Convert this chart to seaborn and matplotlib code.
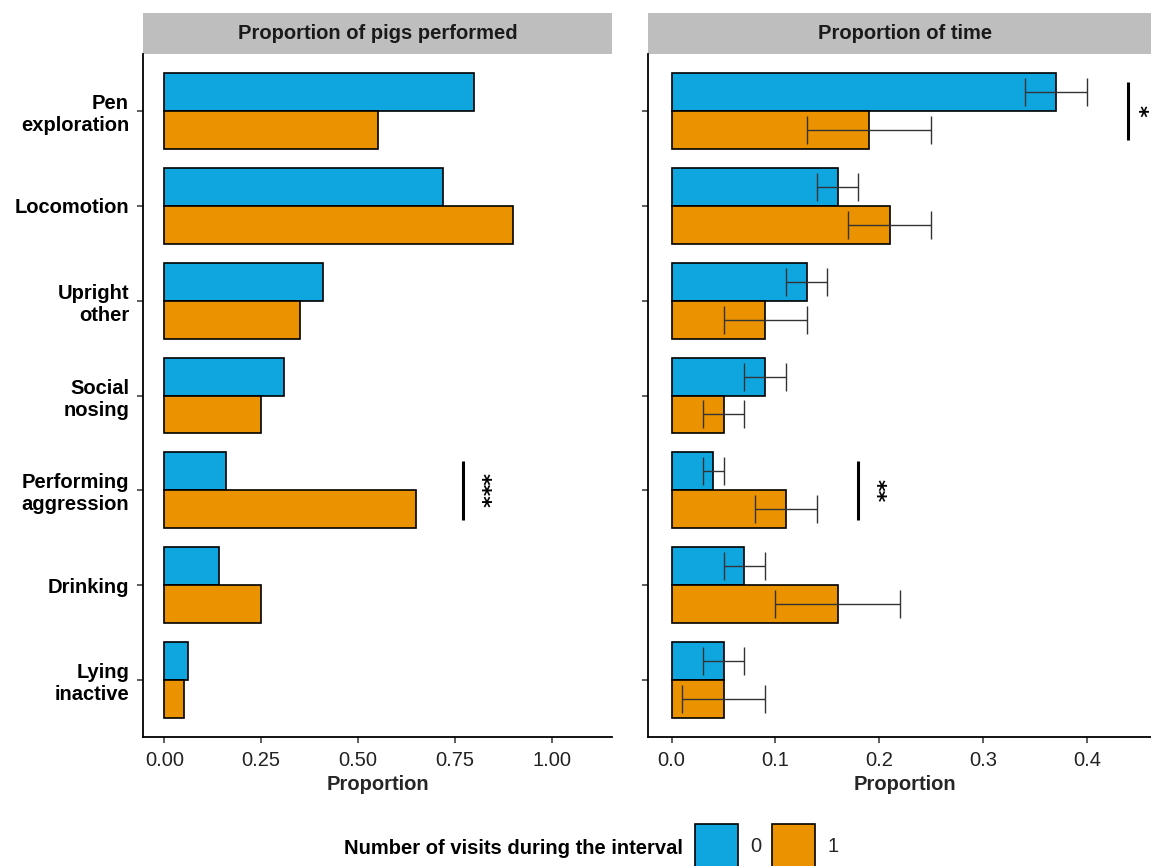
import numpy as np
import pandas as pd
import matplotlib
matplotlib.use("Agg")
import matplotlib.pyplot as plt
from matplotlib.patches import Patch, Rectangle
from matplotlib.ticker import FormatStrFormatter
import seaborn as sns

# ---------------- data ----------------
behaviours = ["Pen\nexploration", "Locomotion", "Upright\nother", "Social\nnosing",
              "Performing\naggression", "Drinking", "Lying\ninactive"]
visit_levels = ["0", "1"]

pigs_v0 = [0.80, 0.72, 0.41, 0.31, 0.16, 0.14, 0.06]
pigs_v1 = [0.55, 0.90, 0.35, 0.25, 0.65, 0.25, 0.05]

time_v0 = [0.37, 0.16, 0.13, 0.09, 0.04, 0.07, 0.05]
time_v1 = [0.19, 0.21, 0.09, 0.05, 0.11, 0.16, 0.05]
time_v0_lo = [0.34, 0.14, 0.11, 0.07, 0.03, 0.05, 0.03]
time_v0_hi = [0.40, 0.18, 0.15, 0.11, 0.05, 0.09, 0.07]
time_v1_lo = [0.13, 0.17, 0.05, 0.03, 0.08, 0.10, 0.01]
time_v1_hi = [0.25, 0.25, 0.13, 0.07, 0.14, 0.22, 0.09]

# significance annotations: (behaviour, bar x, text x, label)
sig_pigs = [("Performing\naggression", 0.77, 0.815, "***")]
sig_time = [("Pen\nexploration", 0.44, 0.449, "*"),
            ("Performing\naggression", 0.18, 0.196, "**")]

panel_titles = ["Proportion of pigs performed", "Proportion of time"]
legend_title = "Number of visits during the interval"

BLUE = "#0FA6E0"
ORANGE = "#EA9200"
palette = {"0": BLUE, "1": ORANGE}

df_pigs = pd.DataFrame({
    "behaviour": behaviours * 2,
    "visits": ["0"] * len(behaviours) + ["1"] * len(behaviours),
    "value": pigs_v0 + pigs_v1,
})
df_time = pd.DataFrame({
    "behaviour": behaviours * 2,
    "visits": ["0"] * len(behaviours) + ["1"] * len(behaviours),
    "value": time_v0 + time_v1,
    "lo": time_v0_lo + time_v1_lo,
    "hi": time_v0_hi + time_v1_hi,
})

# ---------------- style ----------------
sns.set_theme(style="white")
plt.rcParams["font.family"] = ["Liberation Sans", "DejaVu Sans"]
FS = 14.5

W, H = 1151, 866
fig = plt.figure(figsize=(W / 100, H / 100), dpi=100)
ax1 = fig.add_axes([143 / W, 129 / H, 469 / W, 683 / H])
ax2 = fig.add_axes([648.3 / W, 129 / H, 513.8 / W, 683 / H])

for ax, df in [(ax1, df_pigs), (ax2, df_time)]:
    sns.barplot(data=df, y="behaviour", x="value", hue="visits", order=behaviours,
                hue_order=visit_levels, palette=palette, orient="h", errorbar=None,
                width=0.8, edgecolor="black", linewidth=1.2, legend=False, ax=ax,
                saturation=1)

# error bars on the time panel, positioned from the drawn bars
for level, container in zip(visit_levels, ax2.containers):
    sub = df_time[df_time["visits"] == level].set_index("behaviour").loc[behaviours]
    ys = [p.get_y() + p.get_height() / 2 for p in container.patches]
    vals = sub["value"].to_numpy()
    xerr = np.vstack([vals - sub["lo"].to_numpy(), sub["hi"].to_numpy() - vals])
    ax2.errorbar(vals, ys, xerr=xerr, fmt="none", ecolor="#333333",
                 elinewidth=1.0, capsize=10, capthick=1.0, zorder=5)

# significance marks
for ax, sigs in [(ax1, sig_pigs), (ax2, sig_time)]:
    for beh, xb, xt, lab in sigs:
        yc = behaviours.index(beh)
        ax.plot([xb, xb], [yc - 0.31, yc + 0.31], color="black", lw=2.2,
                solid_capstyle="butt", zorder=6, clip_on=False)
        ax.text(xt, yc, lab, rotation=270, ha="center", va="center",
                fontsize=16, fontweight="bold", color="black", clip_on=False,
                family="DejaVu Sans")

# axes cosmetics
ax1.set_xlim(-0.055, 1.155)
ax1.set_xticks([0, 0.25, 0.5, 0.75, 1.0])
ax1.xaxis.set_major_formatter(FormatStrFormatter("%.2f"))
ax2.set_xlim(-0.0225, 0.4725)
ax2.set_xticks([0, 0.1, 0.2, 0.3, 0.4])
ax2.xaxis.set_major_formatter(FormatStrFormatter("%.1f"))

for i, ax in enumerate([ax1, ax2]):
    ax.set_ylim(len(behaviours) - 1 + 0.6, -0.6)
    ax.set_ylabel("")
    ax.set_xlabel("Proportion", fontsize=FS, fontweight="bold", labelpad=4)
    for s in ["top", "right"]:
        ax.spines[s].set_visible(False)
    for s in ["left", "bottom"]:
        ax.spines[s].set_color("black")
        ax.spines[s].set_linewidth(1.3)
    ax.tick_params(axis="both", which="major", length=4, width=1.1, color="#333333",
                   bottom=True, left=True, direction="out")
    ax.tick_params(axis="x", labelsize=FS, labelcolor="#222222", pad=6)
    ax.tick_params(axis="y", labelsize=FS, pad=6)
    for t in ax.get_yticklabels():
        t.set_fontweight("bold")
        t.set_color("black")
        t.set_multialignment("right")
    # strip
    sh = 41 / 683
    ax.add_patch(Rectangle((0, 1.0), 1, sh, transform=ax.transAxes,
                           facecolor="#BEBEBE", edgecolor="none", clip_on=False))
    cx = 0.5 if i == 0 else (905 - 648.3) / 513.8
    ax.text(cx, 1 + sh / 2, panel_titles[i], transform=ax.transAxes,
            ha="center", va="center", fontsize=FS, fontweight="bold", color="#1a1a1a")

ax2.set_yticklabels([])

# legend
fig.text(683 / W, 1 - 848 / H, legend_title, ha="right", va="center",
         fontsize=FS, fontweight="bold", color="black")
handles = [Patch(facecolor=palette[l], edgecolor="black", linewidth=1.2) for l in visit_levels]
fig.legend(handles=handles, labels=visit_levels, loc="center left",
           bbox_to_anchor=(695 / W, 1 - 846 / H), ncol=2, frameon=False,
           borderpad=0, borderaxespad=0, handlelength=2.14, handleheight=2.93,
           handletextpad=0.6, columnspacing=0.55, fontsize=FS)

fig.savefig("out.png", dpi=100)
